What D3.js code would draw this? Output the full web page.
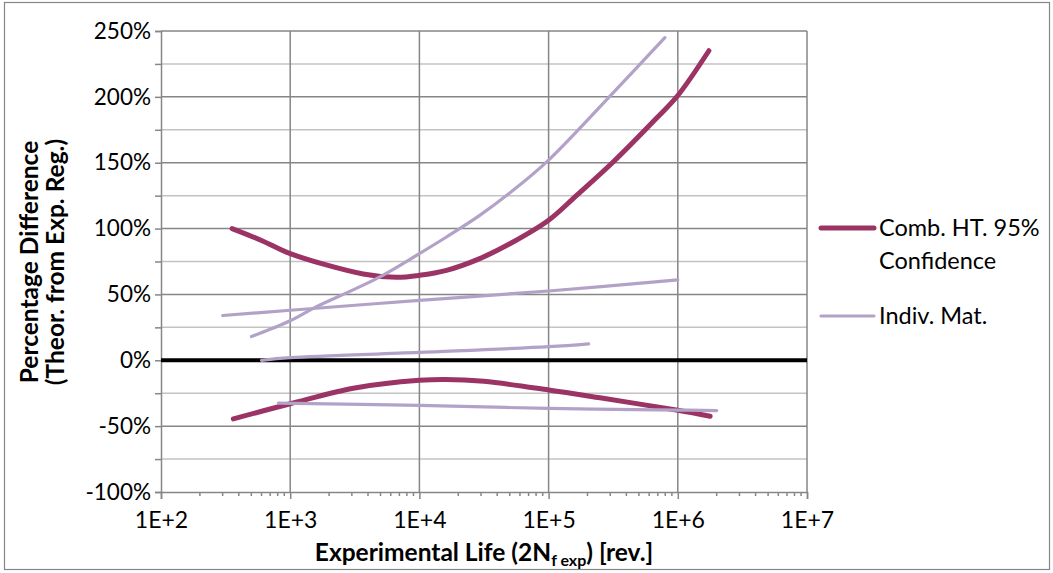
<!DOCTYPE html>
<html>
<head>
<meta charset="utf-8">
<script src="https://cdn.jsdelivr.net/npm/d3@7"></script>
<style>
  html, body { margin: 0; padding: 0; background: #fff; }
  svg { display: block; font-family: Lato, "Open Sans", sans-serif; }
</style>
</head>
<body>
<svg id="chart" width="1053" height="573"></svg>
<script>
// Decade ticks on the life axis and percentage ticks on the difference axis
const xTickValues = [1e2, 1e3, 1e4, 1e5, 1e6, 1e7];
const xTickLabels = ["1E+2", "1E+3", "1E+4", "1E+5", "1E+6", "1E+7"];
const yTickValues = [-100, -50, 0, 50, 100, 150, 200, 250];
const yTickLabels = ["-100%", "-50%", "0%", "50%", "100%", "150%", "200%", "250%"];

// Combined high-temperature 95% confidence bounds: [life, % difference]
const combUpper = [[355, 100], [600, 91], [1000, 81], [3670, 65.5], [6600, 63],
  [10000, 64.5], [16200, 68.3], [29300, 77.2], [53100, 89.8], [100000, 106.3], [164000, 125],
  [316000, 150.5], [680000, 183.5], [1000000, 201], [1740000, 235]];
const combLower = [[363, -44.5], [1000, -33], [3160, -21], [10000, -15.2], [15800, -14.5],
  [31600, -16], [100000, -22.5], [250000, -28.5], [1000000, -38], [1780000, -42.5]];

// Individual material curves
const indivA = [[501, 18], [1000, 30], [1585, 40.5], [3160, 54], [4940, 63.3], [10000, 81],
  [16200, 93.6], [29300, 110], [53100, 129], [100000, 152], [295000, 200], [794000, 245]];
const indivB = [[300, 34], [1000, 38], [10000, 45.5], [100000, 52.6], [1000000, 61]];
const indivC = [[600, 0], [1000, 2], [10000, 6], [100000, 10.3], [204000, 12.5]];
const indivD = [[810, -32.5], [10000, -34.3], [100000, -36.5], [1000000, -37.8], [2000000, -38.2]];

const combSeries = [combUpper, combLower];
const indivSeries = [indivA, indivB, indivC, indivD];

const legendLabels = [["Comb. HT. 95%", "Confidence"], ["Indiv. Mat."]];

const combColor = "#9b3465";
const indivColor = "#b3a2c7";
const gridMajor = "#868686";
const gridMinor = "#c3c3c3";
const fontFamily = "Lato, sans-serif";

const svg = d3.select("#chart");
const plot = { left: 161, right: 807, top: 31, bottom: 492 };

const x = d3.scaleLog().domain([1e2, 1e7]).range([plot.left, plot.right]);
const y = d3.scaleLinear().domain([-100, 250]).range([plot.bottom, plot.top]);

// Outer chart frame
svg.append("rect")
  .attr("x", 4.5).attr("y", 2.5).attr("width", 1045).attr("height", 567)
  .attr("fill", "#fff").attr("stroke", gridMajor).attr("stroke-width", 1.2);

// Minor horizontal gridlines (25% offsets)
const yMinor = d3.range(-75, 250, 50);
svg.append("g").selectAll("line").data(yMinor).join("line")
  .attr("x1", plot.left).attr("x2", plot.right)
  .attr("y1", d => y(d)).attr("y2", d => y(d))
  .attr("stroke", gridMinor).attr("stroke-width", 1.5);

// Major horizontal gridlines
svg.append("g").selectAll("line").data(yTickValues.filter(v => v !== -100)).join("line")
  .attr("x1", plot.left).attr("x2", plot.right)
  .attr("y1", d => y(d)).attr("y2", d => y(d))
  .attr("stroke", gridMajor).attr("stroke-width", 1.5);

// Vertical decade gridlines
svg.append("g").selectAll("line").data(xTickValues.slice(1)).join("line")
  .attr("x1", d => x(d)).attr("x2", d => x(d))
  .attr("y1", plot.top).attr("y2", plot.bottom)
  .attr("stroke", gridMajor).attr("stroke-width", 1.5);

// Y axis: ticks every 25%, labels every 50%
const yAxis = d3.axisLeft(y)
  .tickValues(d3.range(-100, 251, 25))
  .tickSize(6)
  .tickFormat(d => { const i = yTickValues.indexOf(d); return i >= 0 ? yTickLabels[i] : ""; });
const gy = svg.append("g").attr("transform", `translate(${plot.left},0)`).call(yAxis);
gy.select(".domain").attr("stroke", gridMajor).attr("stroke-width", 1.5);
gy.selectAll(".tick line").attr("stroke", gridMajor).attr("stroke-width", 1.5);
gy.selectAll(".tick text").attr("x", -10).attr("font-size", 22.5).attr("fill", "#000")
  .attr("font-family", fontFamily);

// X axis: decade labels plus log minor ticks
const xMinor = [];
for (let e = 2; e < 7; e++) for (let m = 2; m <= 9; m++) xMinor.push(m * Math.pow(10, e));
svg.append("g").selectAll("line").data(xMinor).join("line")
  .attr("x1", d => x(d)).attr("x2", d => x(d))
  .attr("y1", plot.bottom).attr("y2", plot.bottom + 4)
  .attr("stroke", gridMajor).attr("stroke-width", 1.5);
const xAxis = d3.axisBottom(x)
  .tickValues(xTickValues)
  .tickSize(7)
  .tickFormat((d, i) => xTickLabels[i]);
const gx = svg.append("g").attr("transform", `translate(0,${plot.bottom})`).call(xAxis);
gx.select(".domain").attr("stroke", gridMajor).attr("stroke-width", 1.5);
gx.selectAll(".tick line").attr("stroke", gridMajor).attr("stroke-width", 1.5);
gx.selectAll(".tick text").attr("y", 20).attr("font-size", 23).attr("fill", "#000")
  .attr("font-family", fontFamily);

// Zero reference line
svg.append("line")
  .attr("x1", plot.left).attr("x2", plot.right)
  .attr("y1", y(0)).attr("y2", y(0))
  .attr("stroke", "#000").attr("stroke-width", 4);

const line = d3.line()
  .x(d => x(d[0])).y(d => y(d[1]))
  .curve(d3.curveCatmullRom.alpha(0.5));

svg.append("g").selectAll("path").data(combSeries).join("path")
  .attr("d", line).attr("fill", "none")
  .attr("stroke", combColor).attr("stroke-width", 5).attr("stroke-linecap", "round");

svg.append("g").selectAll("path").data(indivSeries).join("path")
  .attr("d", line).attr("fill", "none")
  .attr("stroke", indivColor).attr("stroke-width", 3.2).attr("stroke-linecap", "round");

// Legend
const legend = svg.append("g").attr("font-size", 23.5).attr("font-family", fontFamily);
legend.append("line").attr("x1", 821).attr("x2", 874).attr("y1", 228).attr("y2", 228)
  .attr("stroke", combColor).attr("stroke-width", 5).attr("stroke-linecap", "round");
legend.append("line").attr("x1", 821).attr("x2", 874).attr("y1", 316).attr("y2", 316)
  .attr("stroke", indivColor).attr("stroke-width", 3.2).attr("stroke-linecap", "round");
legend.append("text").attr("x", 879).attr("y", 236).text(legendLabels[0][0]);
legend.append("text").attr("x", 879).attr("y", 269).text(legendLabels[0][1]);
legend.append("text").attr("x", 879).attr("y", 324).text(legendLabels[1][0]);

// Axis titles
const yTitle = svg.append("text")
  .attr("transform", "translate(0,262) rotate(-90)")
  .attr("text-anchor", "middle").attr("font-weight", "bold").attr("font-size", 24.5)
  .attr("font-family", fontFamily);
yTitle.append("tspan").attr("x", 0).attr("y", 38).text("Percentage Difference");
yTitle.append("tspan").attr("x", 0).attr("y", 64).text("(Theor. from Exp. Reg.)");

const xTitle = svg.append("text")
  .attr("x", 484).attr("y", 561)
  .attr("text-anchor", "middle").attr("font-weight", "bold").attr("font-size", 24.5)
  .attr("font-family", fontFamily);
xTitle.append("tspan").text("Experimental Life (2N");
xTitle.append("tspan").attr("font-size", 16).attr("dy", 5).text("f exp");
xTitle.append("tspan").attr("dy", -5).text(") [rev.]");
</script>
</body>
</html>
